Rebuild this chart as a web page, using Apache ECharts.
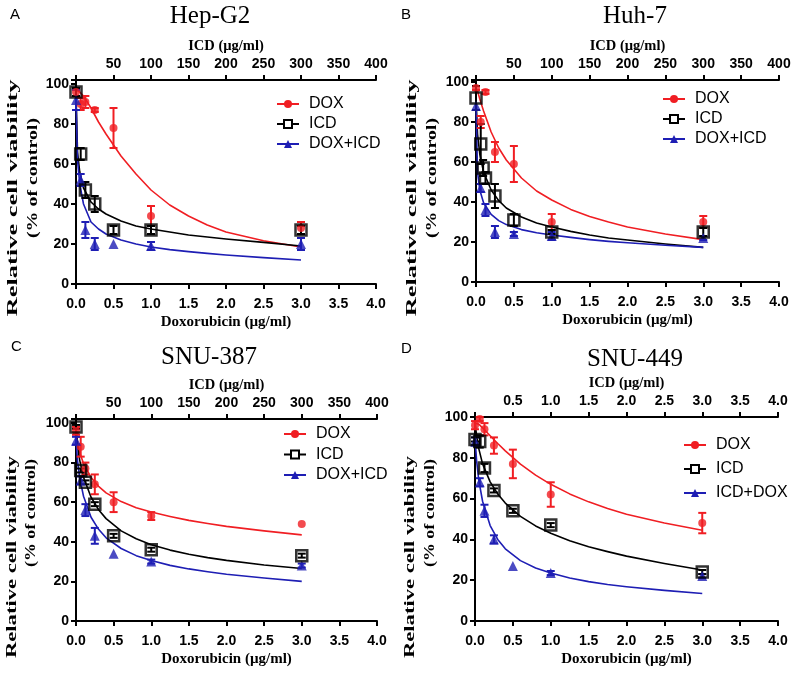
<!DOCTYPE html>
<html>
<head>
<meta charset="utf-8">
<script src="https://cdn.jsdelivr.net/npm/echarts@6/dist/echarts.min.js"></script>
<style>
html, body { margin: 0; padding: 0; background: #fff; }
#main { width: 800px; height: 674px; }
</style>
</head>
<body>
<div id="main"></div>
<script>
// doses (Doxorubicin µg/ml, same positions as ICD on the top axis)
var dose = [0, 0.0625, 0.125, 0.25, 0.5, 1, 3];
var huhIcdDose = [0, 0.0625, 0.094, 0.125, 0.25, 0.5, 1, 3];
var fitX = [0, 0.02, 0.05, 0.1, 0.2, 0.3, 0.4, 0.6, 0.8, 1, 1.25, 1.5, 1.75, 2, 2.5, 3];

// A  Hep-G2
var hepDox = [96, 90, 91, 87, 78, 34, 28];
var hepDoxErr = [2, 3, 3, 1, 10, 5, 3];
var hepIcd = [96, 65, 47, 40, 27, 27, 27];
var hepIcdErr = [2, 3, 4, 4, 2, 2, 2];
var hepMix = [92, 52, 27, 20, 20, 19, 20];
var hepMixErr = [5, 3, 4, 3, 0, 2, 3];
var hepDoxFit = [97, 97, 96, 94, 88, 81, 75, 64, 55, 47, 39.5, 34, 29.5, 26, 21.6, 18.5];
var hepIcdFit = [96, 66, 56, 48, 41, 37.5, 35, 31.5, 29, 27.5, 26, 24.5, 23.5, 22.5, 20.8, 19];
var hepMixFit = [92, 62, 50, 40, 31, 27.5, 25, 22, 20, 18.5, 17.2, 16.2, 15.3, 14.5, 13.2, 12];

// B  Huh-7
var huhDox = [97, 80, 95, 65, 59, 30, 30];
var huhDoxErr = [1, 3, 1, 5, 9, 4, 3];
var huhIcd = [92, 69, 57, 52, 43, 31, 25, 25];
var huhIcdErr = [6, 10, 4, 3, 6, 3, 1, 2];
var huhMix = [88, 47, 36, 25, 24, 23, 22];
var huhMixErr = [0, 2, 3, 3, 1, 2, 1];
var huhDoxFit = [97, 95.5, 91.5, 85.5, 75, 67, 61, 52, 45.5, 41, 36.3, 32.8, 30, 27.5, 24, 21.2];
var huhIcdFit = [92, 74, 64, 55, 46, 40.7, 37, 32.5, 29.5, 27.5, 25.3, 23.5, 22, 21, 19, 17.3];
var huhMixFit = [90, 55, 46, 39.6, 33.8, 30.7, 28.7, 26.2, 24.6, 23.5, 22.3, 21.2, 20.3, 19.6, 18.4, 17.3];

// C  SNU-387
var s387Dox = [96, 88, 77, 69, 60, 53, 49];
var s387DoxErr = [2, 5, 3, 5, 5, 2, 0];
var s387Icd = [98, 76, 70, 59, 43, 36, 33];
var s387IcdErr = [1, 1, 1, 1, 1, 1, 1];
var s387Mix = [91, 71, 56, 43, 34, 30, 28];
var s387MixErr = [2, 2, 3, 4, 0, 1, 1];
var s387DoxFit = [97, 90.5, 85, 79.5, 72.5, 68, 64.7, 60.3, 57.2, 55, 52.8, 50.8, 49.2, 47.8, 45.5, 43.5];
var s387IcdFit = [98, 88.5, 81, 72.6, 62.5, 56.2, 51.7, 45.5, 41.5, 38.5, 35.8, 33.7, 32, 30.6, 28.3, 26.5];
var s387MixFit = [92, 81, 72, 63, 52.4, 46.3, 42, 36.6, 33, 30.5, 28.1, 26.3, 24.9, 23.6, 21.7, 20];

// D  SNU-449
var s449Dox = [96, 99, 94, 86, 77, 62, 48];
var s449DoxErr = [2, 1, 3, 4, 7, 6, 5];
var s449Icd = [89, 88, 75, 64, 54, 47, 24];
var s449IcdErr = [1, 3, 2, 1, 1, 1, 1];
var s449Mix = [88, 68, 54, 40, 27, 23.5, 22];
var s449MixErr = [2, 2, 3, 2, 0, 1, 1];
var s449DoxFit = [97, 97, 96.5, 94.7, 90.8, 87, 83.4, 76.9, 71.5, 67, 62.3, 58.4, 55.2, 52.3, 48, 44.5];
var s449IcdFit = [98, 91, 84.5, 77, 68.2, 62.3, 57.8, 51.3, 46.6, 43, 39.3, 36.4, 34, 31.8, 28.2, 25];
var s449MixFit = [90, 79, 69, 58.7, 46.8, 40, 35.4, 29.6, 26, 23.5, 21.1, 19.3, 17.9, 16.8, 15, 13.5];

var RED = '#f01e23', BLACK = '#000', BLUE = '#1e1eb4';
var SANS = '"Liberation Sans", Arial, sans-serif';
var SERIF = '"Liberation Serif", "Times New Roman", serif';

var panels = [
    { title: 'Hep-G2', letter: 'A', tx: 210, ty: 16, lx: 10, ly: 15,
      grid: { left: 76, top: 80, width: 300, height: 204 }, ymax: 102, topMax: 400, topStep: 50,
      legend: { left: 271, top: 91, gap: 4 },
      yName: { x1: 13, y1: 198, len1: 237, x2: 33, y2: 178, len2: 120 },
      groups: [
        { name: 'DOX', kind: 'dox', x: dose, y: hepDox, err: hepDoxErr, fit: hepDoxFit },
        { name: 'ICD', kind: 'icd', x: dose, y: hepIcd, err: hepIcdErr, fit: hepIcdFit },
        { name: 'DOX+ICD', kind: 'mix', x: dose, y: hepMix, err: hepMixErr, fit: hepMixFit }
      ] },
    { title: 'Huh-7', letter: 'B', tx: 635, ty: 16, lx: 401, ly: 15,
      grid: { left: 476, top: 80, width: 303, height: 202 }, ymax: 101, topMax: 400, topStep: 50,
      legend: { left: 657, top: 86, gap: 4 },
      yName: { x1: 412, y1: 198, len1: 237, x2: 432, y2: 178, len2: 120 },
      groups: [
        { name: 'DOX', kind: 'dox', x: dose, y: huhDox, err: huhDoxErr, fit: huhDoxFit },
        { name: 'ICD', kind: 'icd', x: huhIcdDose, y: huhIcd, err: huhIcdErr, fit: huhIcdFit },
        { name: 'DOX+ICD', kind: 'mix', x: dose, y: huhMix, err: huhMixErr, fit: huhMixFit }
      ] },
    { title: 'SNU-387', letter: 'C', tx: 209, ty: 357, lx: 11, ly: 347,
      grid: { left: 76, top: 419, width: 301, height: 202 }, ymax: 102, topMax: 400, topStep: 50,
      legend: { left: 278, top: 421, gap: 4.5 },
      yName: { x1: 12, y1: 557, len1: 202, x2: 31, y2: 513, len2: 108 },
      groups: [
        { name: 'DOX', kind: 'dox', x: dose, y: s387Dox, err: s387DoxErr, fit: s387DoxFit },
        { name: 'ICD', kind: 'icd', x: dose, y: s387Icd, err: s387IcdErr, fit: s387IcdFit },
        { name: 'DOX+ICD', kind: 'mix', x: dose, y: s387Mix, err: s387MixErr, fit: s387MixFit }
      ] },
    { title: 'SNU-449', letter: 'D', tx: 635, ty: 359, lx: 401, ly: 349,
      grid: { left: 475, top: 417, width: 303, height: 204 }, ymax: 100, topMax: 4, topStep: 0.5,
      legend: { left: 678, top: 432, gap: 8 },
      yName: { x1: 410, y1: 557, len1: 202, x2: 430, y2: 513, len2: 108 },
      groups: [
        { name: 'DOX', kind: 'dox', x: dose, y: s449Dox, err: s449DoxErr, fit: s449DoxFit },
        { name: 'ICD', kind: 'icd', x: dose, y: s449Icd, err: s449IcdErr, fit: s449IcdFit },
        { name: 'ICD+DOX', kind: 'mix', x: dose, y: s449Mix, err: s449MixErr, fit: s449MixFit }
      ] }
];

var styles = {
    dox: { color: RED, symbol: 'circle', size: 8, item: { color: RED } },
    icd: { color: BLACK, symbol: 'rect', size: 11, item: { color: 'rgba(255,255,255,0)', borderColor: BLACK, borderWidth: 2.5 } },
    mix: { color: BLUE, symbol: 'triangle', size: 10, item: { color: BLUE } }
};

function renderErr(params, api) {
    var x = api.value(0), y = api.value(1), e = api.value(2);
    if (!e) return { type: 'group', children: [] };
    var top = api.coord([x, y + e]);
    var bot = api.coord([x, y - e]);
    var w = 4;
    var st = { stroke: api.visual('color'), lineWidth: 2 };
    return { type: 'group', children: [
        { type: 'line', shape: { x1: top[0], y1: top[1], x2: bot[0], y2: bot[1] }, style: st },
        { type: 'line', shape: { x1: top[0] - w, y1: top[1], x2: top[0] + w, y2: top[1] }, style: st },
        { type: 'line', shape: { x1: bot[0] - w, y1: bot[1], x2: bot[0] + w, y2: bot[1] }, style: st }
    ] };
}

var labelStyle = { color: '#000', fontWeight: 'bold', fontSize: 14, fontFamily: SANS };
var lineSt = { color: '#000', width: 2 };
var NAME_FONT = 'bold 15px ' + SERIF;

// stretched, rotated y-axis title line (the source figure is stretched along it)
function yNameText(text, x, y, len) {
    var natural = echarts.format.getTextRect
        ? echarts.format.getTextRect(text, NAME_FONT).width : text.length * 6.2;
    return { type: 'text', x: x, y: y, rotation: Math.PI / 2, scaleX: len / natural,
        style: { text: text, font: NAME_FONT, fill: '#000', align: 'center', verticalAlign: 'middle' } };
}

var grids = [], xAxes = [], yAxes = [], series = [], legends = [], texts = [];

panels.forEach(function (p, i) {
    grids.push(p.grid);
    xAxes.push({
        gridIndex: i, type: 'value', position: 'bottom', min: 0, max: 4, interval: 0.5,
        name: 'Doxorubicin (µg/ml)', nameLocation: 'middle', nameGap: 31,
        nameTextStyle: { color: '#000', fontWeight: 'bold', fontSize: 15, fontFamily: SERIF },
        axisLine: { show: true, onZero: false, lineStyle: lineSt },
        axisTick: { show: true, length: 5, lineStyle: lineSt },
        axisLabel: Object.assign({ margin: 13, formatter: function (v) { return v.toFixed(1); } }, labelStyle),
        splitLine: { show: false }
    });
    xAxes.push({
        gridIndex: i, type: 'value', position: 'top', min: 0, max: p.topMax, interval: p.topStep,
        name: 'ICD (µg/ml)', nameLocation: 'middle', nameGap: 26,
        nameTextStyle: { color: '#000', fontWeight: 'bold', fontSize: 14.5, fontFamily: SERIF },
        axisLine: { show: true, onZero: false, lineStyle: lineSt },
        axisTick: { show: true, length: 5, lineStyle: lineSt },
        axisLabel: Object.assign({ margin: 9, formatter: function (v) {
            if (v === 0) return '';
            return p.topStep < 1 ? v.toFixed(1) : String(v);
        } }, labelStyle),
        splitLine: { show: false }
    });
    yAxes.push({
        gridIndex: i, type: 'value', min: 0, max: p.ymax, interval: 20,
        axisLine: { show: true, onZero: false, lineStyle: lineSt },
        axisTick: { show: true, length: 5, lineStyle: lineSt },
        axisLabel: Object.assign({ margin: 7, formatter: function (v) { return v % 20 === 0 ? v : ''; } }, labelStyle),
        splitLine: { show: false }
    });

    // fitted curves (these carry the legend)
    p.groups.forEach(function (g) {
        var s = styles[g.kind];
        series.push({
            type: 'line', name: g.name, xAxisIndex: i * 2, yAxisIndex: i,
            data: fitX.map(function (x, k) { return [x, g.fit[k]]; }),
            smooth: false, showSymbol: false,
            symbol: s.symbol, symbolSize: s.size,
            itemStyle: g.kind === 'icd' ? { color: '#fff', borderColor: BLACK, borderWidth: 2 } : s.item,
            lineStyle: { color: s.color, width: 1.6, join: 'round' },
            silent: true, z: 2
        });
    });
    // error bars then markers: red, blue, black
    ['dox', 'mix', 'icd'].forEach(function (kind) {
        var g = p.groups.filter(function (q) { return q.kind === kind; })[0];
        var s = styles[kind];
        series.push({
            type: 'custom', xAxisIndex: i * 2, yAxisIndex: i,
            itemStyle: { color: s.color },
            data: g.x.map(function (x, k) { return [x, g.y[k], g.err[k]]; }),
            renderItem: renderErr, silent: true, z: 3
        });
        series.push({
            type: 'scatter', xAxisIndex: i * 2, yAxisIndex: i,
            symbol: s.symbol, symbolSize: s.size, itemStyle: s.item,
            data: g.x.map(function (x, k) { return [x, g.y[k]]; }),
            silent: true, z: 4
        });
    });

    legends.push({
        orient: 'vertical', left: p.legend.left, top: p.legend.top,
        itemWidth: 22, itemHeight: 10, itemGap: p.legend.gap,
        textStyle: { color: '#000', fontSize: 16, lineHeight: 16, fontFamily: SANS, padding: [0, 0, 0, 5] },
        selectedMode: false,
        data: p.groups.map(function (g) { return g.name; })
    });

    texts.push({ type: 'text', x: p.tx, y: p.ty,
        style: { text: p.title, font: '25px ' + SERIF, fill: '#000', align: 'center', verticalAlign: 'middle' } });
    texts.push({ type: 'text', x: p.lx, y: p.ly,
        style: { text: p.letter, font: '15px ' + SANS, fill: '#000', align: 'left', verticalAlign: 'middle' } });
    texts.push(yNameText('Relative cell viability', p.yName.x1, p.yName.y1, p.yName.len1));
    texts.push(yNameText('(% of control)', p.yName.x2, p.yName.y2, p.yName.len2));
});

var chart = echarts.init(document.getElementById('main'));
chart.setOption({
    animation: false,
    backgroundColor: '#fff',
    grid: grids,
    xAxis: xAxes,
    yAxis: yAxes,
    legend: legends,
    graphic: texts,
    series: series
});
</script>
</body>
</html>
